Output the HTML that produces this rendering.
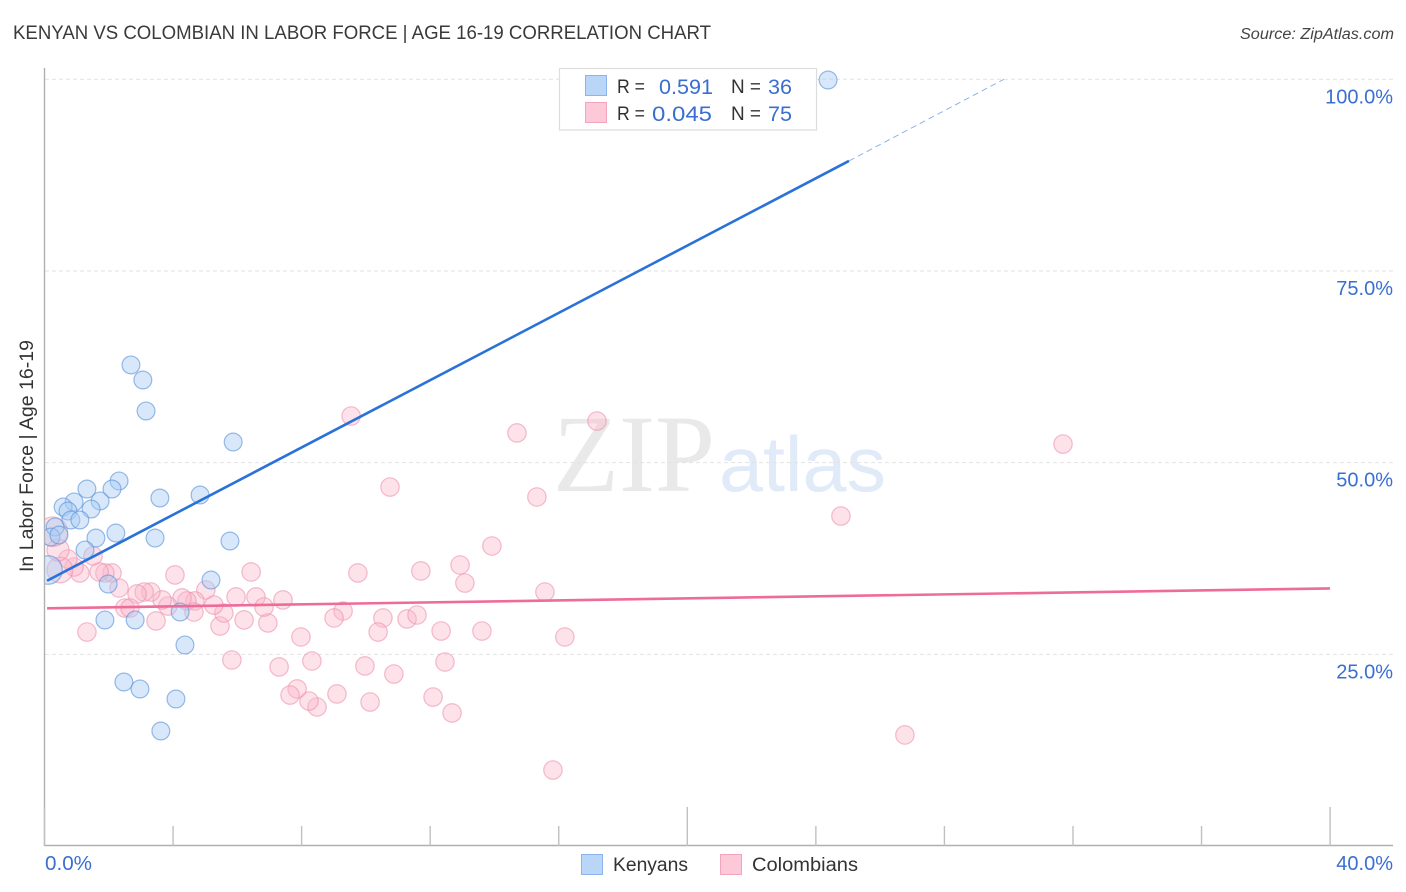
<!DOCTYPE html>
<html lang="en">
<head>
<meta charset="utf-8">
<title>Kenyan vs Colombian in Labor Force | Age 16-19 Correlation Chart</title>
<style>
html,body{margin:0;padding:0;background:#fff;}
svg{display:block;font-family:"Liberation Sans",sans-serif;}
</style>
</head>
<body>
<svg id="chart" xmlns="http://www.w3.org/2000/svg" width="1406" height="892" viewBox="0 0 1406 892">
  <defs><clipPath id="plot-clip"><rect x="45" y="68" width="1348" height="778"/></clipPath></defs>
  <rect width="1406" height="892" fill="#fff"/>
  <text x="13" y="39" font-size="19" fill="#3a3a3a" textLength="698" lengthAdjust="spacingAndGlyphs">KENYAN VS COLOMBIAN IN LABOR FORCE | AGE 16-19 CORRELATION CHART</text>
  <text x="1394" y="39" font-size="15.5" font-style="italic" fill="#444" text-anchor="end" textLength="154" lengthAdjust="spacingAndGlyphs">Source: ZipAtlas.com</text>
  <g>
    <text x="553" y="491" font-family="'Liberation Serif',serif" font-size="110" fill="#e9e9e9" textLength="162" lengthAdjust="spacingAndGlyphs">ZIP</text>
    <text x="719" y="491" font-size="78" fill="#e0eaf8" textLength="167" lengthAdjust="spacingAndGlyphs">atlas</text>
  </g>
  <g id="grid"></g>
  <g id="axes"></g>
  <g id="marks" clip-path="url(#plot-clip)"></g>
  <g id="lines"></g>
  <text transform="translate(33,456) rotate(-90)" font-size="19" fill="#333" text-anchor="middle" textLength="232" lengthAdjust="spacingAndGlyphs">In Labor Force | Age 16-19</text>
  <g id="tick-labels"></g>
  <g>
    <rect x="559.5" y="68.5" width="257" height="61.5" fill="#fff" stroke="#ddd" stroke-width="1.2"/>
    <rect x="585.5" y="75.5" width="21" height="20" fill="#b9d5f8" stroke="#8ab4ea"/>
    <rect x="585.5" y="102.5" width="21" height="20" fill="#fdc8d8" stroke="#f3a5bf"/>
    <text x="617" y="93" font-size="19" fill="#333" textLength="28" lengthAdjust="spacingAndGlyphs">R =</text>
    <text x="659" y="94" font-size="21" fill="#3a6fd0" textLength="54" lengthAdjust="spacingAndGlyphs">0.591</text>
    <text x="731" y="93" font-size="19" fill="#333" textLength="30" lengthAdjust="spacingAndGlyphs">N =</text>
    <text x="768" y="94" font-size="21" fill="#3a6fd0" textLength="24" lengthAdjust="spacingAndGlyphs">36</text>
    <text x="617" y="120" font-size="19" fill="#333" textLength="28" lengthAdjust="spacingAndGlyphs">R =</text>
    <text x="652" y="121" font-size="21" fill="#3a6fd0" textLength="60" lengthAdjust="spacingAndGlyphs">0.045</text>
    <text x="731" y="120" font-size="19" fill="#333" textLength="30" lengthAdjust="spacingAndGlyphs">N =</text>
    <text x="768" y="121" font-size="21" fill="#3a6fd0" textLength="24" lengthAdjust="spacingAndGlyphs">75</text>
  </g>
  <g>
    <rect x="581.5" y="854.5" width="21" height="20" fill="#b9d5f8" stroke="#8ab4ea"/>
    <text x="613" y="871" font-size="19" fill="#333" textLength="75" lengthAdjust="spacingAndGlyphs">Kenyans</text>
    <rect x="720.5" y="854.5" width="21" height="20" fill="#fdc8d8" stroke="#f3a5bf"/>
    <text x="752" y="871" font-size="19" fill="#333" textLength="106" lengthAdjust="spacingAndGlyphs">Colombians</text>
  </g>
</svg>
<script>
const xTickValues = [0, 4, 8, 12, 16, 20, 24, 28, 32, 36, 40];
const xMajorTicks = [0, 20, 40];
const xTickLabels = ["0.0%", "40.0%"];
const yTickValues = [25, 50, 75, 100];
const yTickLabels = ["25.0%", "50.0%", "75.0%", "100.0%"];

const kenyanX = [24.38,2.69,3.06,3.16,5.87,2.32,2.10,1.32,4.84,3.59,1.73,0.92,0.58,1.45,0.73,0.82,1.10,2.22,1.60,3.44,5.77,0.33,0.20,0.45,1.26,1.98,5.18,1.88,2.82,4.22,4.37,2.47,2.97,4.09,3.62,0.11];
const kenyanY = [99.91,62.74,60.78,56.74,52.69,47.61,46.56,46.56,45.78,45.39,45.00,44.87,44.22,43.95,43.69,42.52,42.52,40.82,40.17,40.17,39.78,41.61,40.30,40.56,38.61,34.17,34.69,29.48,29.48,30.52,26.22,21.39,20.48,19.17,15.00,36.00];
const kenyanWeight = [1,1,1,1,1,1,1,1,1,1,1,1,1,1,1,1,1,1,1,1,1,1,1,1,1,1,1,1,1,1,1,1,1,1,1,1.6];

const colombianX = [31.69,17.19,9.54,14.70,10.75,15.32,24.78,13.92,12.93,13.08,11.71,9.75,15.57,16.19,26.77,15.82,6.43,4.06,7.42,6.58,5.96,9.29,9.01,10.53,11.28,11.59,10.38,12.34,13.61,12.46,10.87,9.97,12.09,12.68,10.13,9.10,8.48,8.23,7.86,7.64,7.30,8.32,7.98,5.83,6.95,6.83,6.21,5.46,5.58,5.02,4.68,5.27,4.43,4.28,4.65,3.84,3.66,3.47,3.31,3.10,2.88,2.50,2.66,2.32,2.10,1.88,1.70,1.51,1.32,1.10,0.92,0.73,0.48,0.42,0.26];
const colombianY = [52.43,55.43,56.08,53.87,46.82,45.52,43.04,39.13,36.65,34.30,35.87,35.61,33.13,27.26,14.48,9.91,35.74,35.35,32.09,32.48,32.48,30.65,29.74,29.74,29.61,30.13,27.91,28.04,28.04,24.00,22.43,23.48,19.43,17.35,18.78,19.83,18.13,18.91,20.48,19.69,23.35,24.13,27.26,24.26,29.09,31.17,29.48,28.69,30.39,33.39,31.96,31.43,31.96,32.35,30.52,31.30,32.09,29.35,33.13,33.13,32.87,31.04,31.04,33.65,35.61,35.61,35.74,37.83,27.91,35.61,36.39,37.43,36.00,38.61,41.00];
const colombianWeight = [1,1,1,1,1,1,1,1,1,1,1,1,1,1,1,1,1,1,1,1,1,1,1,1,1,1,1,1,1,1,1,1,1,1,1,1,1,1,1,1,1,1,1,1,1,1,1,1,1,1,1,1,1,1,1,1,1,1,1,1,1,1,1,1,1,1,1,1,1,1,1,1,1.4,1.2,1.6];

const kenyanTrendX = [0.08, 25.03, 29.85];
const kenyanTrendY = [34.6, 89.35, 100];
const colombianTrendX = [0.08, 40];
const colombianTrendY = [31.0, 33.6];

const NS = "http://www.w3.org/2000/svg";
function xScale(v) { return 44.5 + v * 32.14; }
function yScale(v) { return 846 - v * 7.667; }
function make(tag, attrs, parent) {
  const el = document.createElementNS(NS, tag);
  for (const k in attrs) el.setAttribute(k, attrs[k]);
  parent.appendChild(el);
  return el;
}
const grid = document.getElementById("grid");
const axes = document.getElementById("axes");
const marks = document.getElementById("marks");
const lines = document.getElementById("lines");
const labels = document.getElementById("tick-labels");

yTickValues.forEach(function (v, i) {
  const line = make("line", {x1: 45, x2: 1393, y1: yScale(v), y2: yScale(v), stroke: "#e2e2e2", "stroke-width": 1, "stroke-dasharray": "4 3"}, grid);
  
  
  const t = make("text", {x: 1393, y: yScale(v) + 24, "text-anchor": "end", "font-size": 20, fill: "#3a6fd0"}, labels);
  t.textContent = yTickLabels[i];
  
  
});

const yAxis = make("line", {x1: 44.5, x2: 44.5, y1: 68, y2: 846, stroke: "#b0b0b0", "stroke-width": 1.4}, axes);


const xAxis = make("line", {x1: 44, x2: 1393, y1: 845.5, y2: 845.5, stroke: "#b0b0b0", "stroke-width": 1.4}, axes);



xTickValues.forEach(function (v) {
  const top = xMajorTicks.indexOf(v) >= 0 ? 807 : 826;
  const tick = make("line", {x1: xScale(v), x2: xScale(v), y1: top, y2: 846, stroke: "#c0c0c0", "stroke-width": 1.4}, axes);
  
  
});

const x0Label = make("text", {x: 45, y: 870, "font-size": 20, fill: "#3a6fd0", textLength: 47, lengthAdjust: "spacingAndGlyphs"}, labels);
x0Label.textContent = xTickLabels[0];


const x1Label = make("text", {x: 1393, y: 870, "font-size": 20, fill: "#3a6fd0", "text-anchor": "end"}, labels);
x1Label.textContent = xTickLabels[1];



colombianX.forEach(function (v, i) {
  const c = make("circle", {cx: xScale(v), cy: yScale(colombianY[i]), r: 9.2 * colombianWeight[i], fill: "#f9b6ca", "fill-opacity": 0.4, stroke: "#ec8fae", "stroke-opacity": 0.6, "stroke-width": 1.2}, marks);
  
  
});
kenyanX.forEach(function (v, i) {
  const c = make("circle", {cx: xScale(v), cy: yScale(kenyanY[i]), r: 8.9 * kenyanWeight[i], fill: "#a9cbf3", "fill-opacity": 0.45, stroke: "#5f97dc", "stroke-opacity": 0.65, "stroke-width": 1.2}, marks);
  
  
});

const kenyanSolid = make("line", {x1: xScale(kenyanTrendX[0]), y1: yScale(kenyanTrendY[0]), x2: xScale(kenyanTrendX[1]), y2: yScale(kenyanTrendY[1]), stroke: "#2a72d8", "stroke-width": 2.6}, lines);


const kenyanDash = make("line", {x1: xScale(kenyanTrendX[1]), y1: yScale(kenyanTrendY[1]), x2: xScale(kenyanTrendX[2]), y2: yScale(kenyanTrendY[2]), stroke: "#8ab4ea", "stroke-width": 1, "stroke-dasharray": "6 4"}, lines);


const colombianLine = make("line", {x1: xScale(colombianTrendX[0]), y1: yScale(colombianTrendY[0]), x2: xScale(colombianTrendX[1]), y2: yScale(colombianTrendY[1]), stroke: "#ee6c9a", "stroke-width": 2.6}, lines);


</script>
</body>
</html>
